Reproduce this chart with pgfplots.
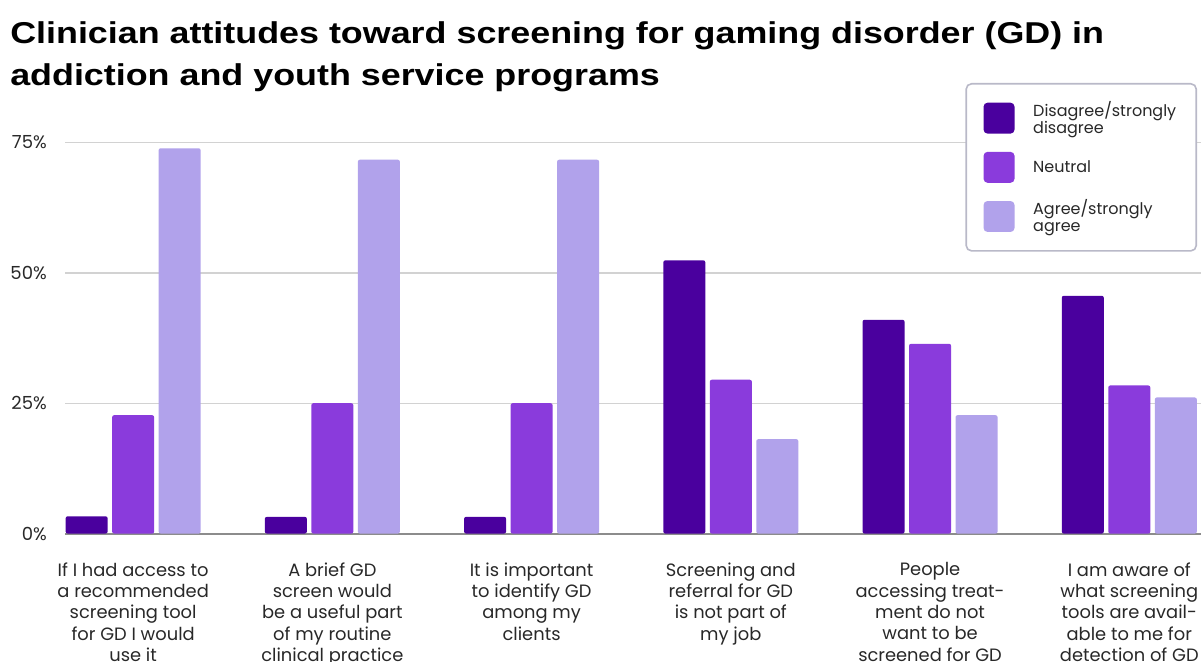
\documentclass[border=0pt]{standalone}
\usepackage{pgfplots}
\pgfplotsset{compat=1.18}
\usepackage{fontspec}
\setmainfont{Poppins}
\newfontfamily\titlefont{Liberation Sans}[FakeStretch=1.19]
\definecolor{cdark}{RGB}{74,0,158}
\definecolor{cmid}{RGB}{138,59,220}
\definecolor{clight}{RGB}{177,162,235}
\definecolor{gridc}{RGB}{210,210,210}
\definecolor{axisc}{RGB}{140,140,140}
\definecolor{legc}{RGB}{185,185,200}
\definecolor{txt}{RGB}{40,40,40}
\pgfplotstableread{
x dis neu agr
0 3.3 22.7 73.9
1 3.2 25.0 71.7
2 3.2 25.0 71.7
3 52.4 29.5 18.1
4 41.0 36.4 22.7
5 45.6 28.4 26.1
}\data
\begin{document}
\begin{tikzpicture}
\useasboundingbox (0,0) rectangle (900.75pt,495.75pt);
\clip (0,0) rectangle (900.75pt,495.75pt);
\node[anchor=base west, inner sep=0pt, font=\titlefont\bfseries\fontsize{22.6}{26}\selectfont] at (7.5pt,462.75pt) {Clinician attitudes toward screening for gaming disorder (GD) in};
\node[anchor=base west, inner sep=0pt, font=\titlefont\bfseries\fontsize{22.6}{26}\selectfont] at (7.5pt,431.6pt) {addiction and youth service programs};
\begin{axis}[
  at={(48.75pt,95.6pt)}, anchor=south west,
  scale only axis, width=852pt, height=312.8pt,
  xmin=-0.342, xmax=5.360, ymin=0, ymax=80,
  ybar, bar width=0.211,
  axis x line*=bottom, axis y line*=left,
  x axis line style={draw=axisc, line width=1.5pt},
  y axis line style={draw=none},
  major tick length=0pt,
  ymajorgrids, grid style={draw=gridc, line width=1pt},
  ytick={0,25,50,75}, yticklabels={0\%,25\%,50\%,75\%},
  yticklabel style={anchor=east, inner sep=0pt, xshift=-13.5pt, text=txt, font=\fontsize{13.5}{16}\selectfont},
  xtick={0,1,2,3,4,5},
  xticklabels={
    {If I had access to\\a recommended\\screening tool\\for GD I would\\use it},
    {A brief GD\\screen would\\be a useful part\\of my routine\\clinical practice},
    {It is important\\to identify GD\\among my\\clients},
    {Screening and\\referral for GD\\is not part of\\my job},
    {People\\accessing treat-\\ment do not\\want to be\\screened for GD},
    {I am aware of\\what screening\\tools are avail-\\able to me for\\detection of GD}},
  xticklabel style={anchor=north, align=center, inner sep=0pt, yshift=-21.5pt, text=txt, font=\fontsize{13.4}{16}\selectfont},
  legend style={at={(0.9965,1.0803)}, anchor=north east,
    draw=legc, line width=1.2pt, rounded corners=4pt, fill=white,
    inner xsep=13pt, inner ysep=11pt, row sep=10.5pt,
    font=\fontsize{12}{12.75}\selectfont,
    cells={anchor=west, align=left, inner sep=0pt, text=txt},
    /tikz/every odd column/.append style={column sep=12pt}},
]
\addplot[fill=cdark, draw=none, rounded corners=1.5pt, bar shift=-0.2334,
  legend image code/.code={\fill[cdark, rounded corners=3pt] (0pt,-11.6pt) rectangle (23.25pt,11.6pt);}]
  table[x=x, y=dis] {\data};
\addlegendentry{Disagree/strongly\\disagree}
\addplot[fill=cmid, draw=none, rounded corners=1.5pt, bar shift=0,
  legend image code/.code={\fill[cmid, rounded corners=3pt] (0pt,-11.6pt) rectangle (23.25pt,11.6pt);}]
  table[x=x, y=neu] {\data};
\addlegendentry{Neutral}
\addplot[fill=clight, draw=none, rounded corners=1.5pt, bar shift=0.2334,
  legend image code/.code={\fill[clight, rounded corners=3pt] (0pt,-11.6pt) rectangle (23.25pt,11.6pt);}]
  table[x=x, y=agr] {\data};
\addlegendentry{Agree/strongly\\agree}
\end{axis}
\end{tikzpicture}
\end{document}
